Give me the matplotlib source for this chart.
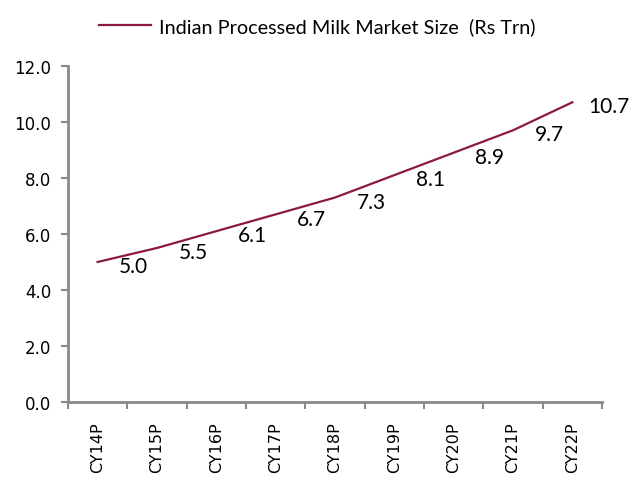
import matplotlib.pyplot as plt
import numpy as np

years = ['CY14P', 'CY15P', 'CY16P', 'CY17P', 'CY18P', 'CY19P', 'CY20P', 'CY21P', 'CY22P']
market_size = [5.0, 5.5, 6.1, 6.7, 7.3, 8.1, 8.9, 9.7, 10.7]
series_name = 'Indian Processed Milk Market Size  (Rs Trn)'

line_col = '#8B1A3C'
axis_col = '#898989'

fig = plt.figure(figsize=(6.35, 4.81), dpi=100)
ax = fig.add_axes([0.107, 0.162, 0.841, 0.699])

x = np.arange(len(years))
ax.plot(x, market_size, color=line_col, lw=1.6, label=series_name)
for xi, v in zip(x, market_size):
    ax.annotate('%.1f' % v, (xi, v), xytext=(26, -3), textcoords='offset points',
                ha='center', va='center', fontsize=15, family='Lato')

ax.set_xlim(-0.5, len(years) - 0.5)
ax.set_ylim(0, 12)
ax.set_yticks(np.arange(0, 12.1, 2))
ax.set_yticklabels(['%.1f' % t for t in np.arange(0, 12.1, 2)], family='DejaVu Sans', fontsize=12)
ax.set_xticks(x)
ax.set_xticklabels(years, rotation=90, family='DejaVu Sans', fontsize=11.5)
ax.set_xticks(np.arange(-0.5, len(years)), minor=True)
ax.tick_params(axis='x', which='major', length=0, pad=14)
ax.tick_params(axis='x', which='minor', length=5, width=1.5, color=axis_col, direction='out')
ax.tick_params(axis='y', length=5, width=1.5, color=axis_col, direction='out', pad=7)

for s in ['top', 'right']:
    ax.spines[s].set_visible(False)
for s in ['left', 'bottom']:
    ax.spines[s].set_color(axis_col)
    ax.spines[s].set_linewidth(2)

leg = fig.legend(loc='upper center', bbox_to_anchor=(0.5, 1.0), frameon=False,
                 prop={'family': 'Lato', 'size': 14.3}, handlelength=2.6, handletextpad=0.4)

plt.savefig('out.png', dpi=100)
